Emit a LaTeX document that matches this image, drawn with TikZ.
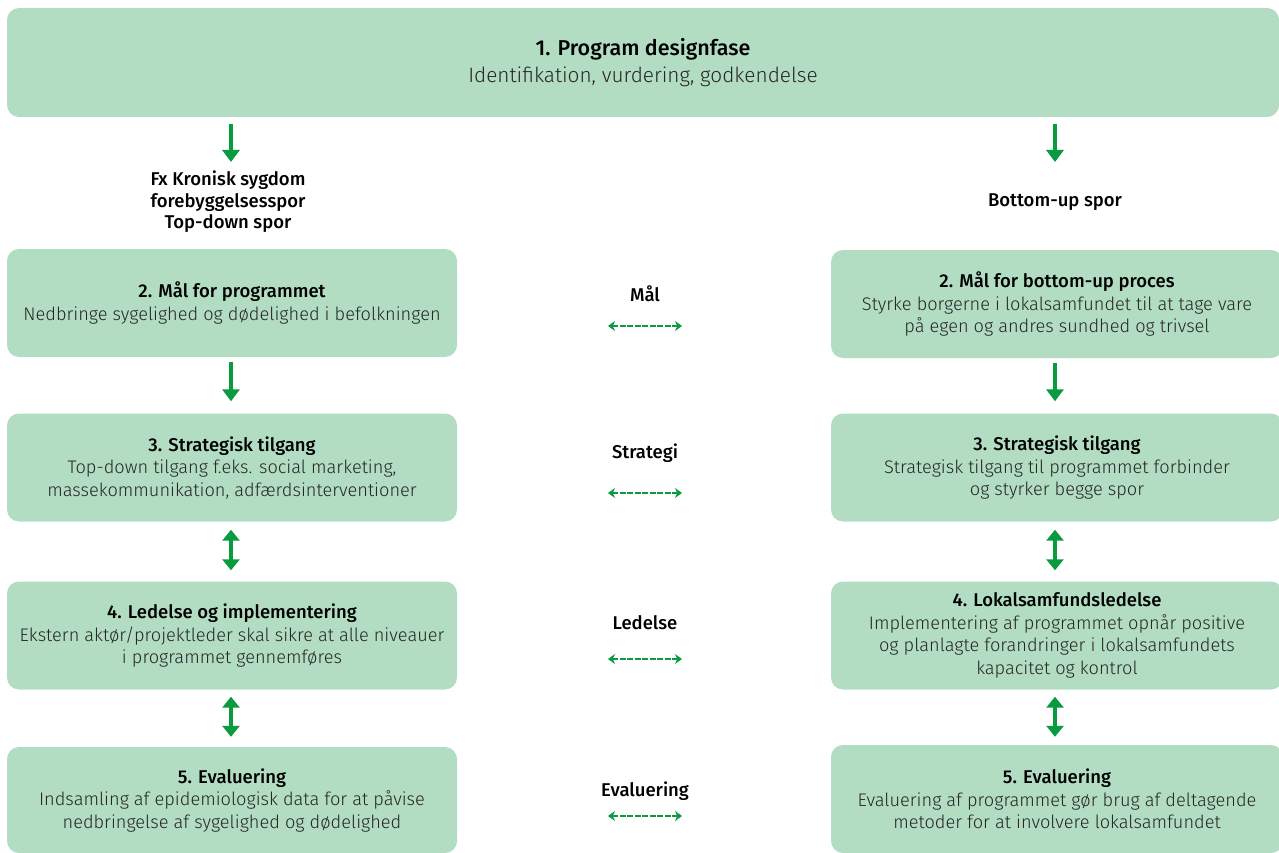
\documentclass[tikz,border=0pt]{standalone}
\usepackage{fontspec}
\setmainfont{Fira Sans Light}[BoldFont={Fira Sans Medium}]
\usetikzlibrary{arrows.meta,calc}
\definecolor{boxgreen}{HTML}{B2DDC3}
\definecolor{arrgreen}{HTML}{0A9A3F}
\definecolor{bodytext}{HTML}{262626}
\tikzset{
  box/.style={fill=boxgreen, rounded corners=12pt, minimum width=450pt, minimum height=108pt,
    inner sep=0pt, align=center, font=\fontsize{18.2}{22.5}\selectfont, text=bodytext},
  lbl/.style={align=center, font=\fontsize{18.5}{21.5}\selectfont\bfseries, text=black},
  flowarrow/.style={draw=arrgreen, line width=4pt, -{Triangle[length=12pt,width=17pt]}},
  twoway/.style={draw=arrgreen, line width=4pt, {Triangle[length=11pt,width=17pt]}-{Triangle[length=11pt,width=17pt]}},
  linkarrow/.style={draw=arrgreen, line width=2pt, dash pattern=on 6pt off 1.5pt,
    {Stealth[length=7pt,width=10pt]}-{Stealth[length=7pt,width=10pt]}}
}
\newcommand{\boxtitle}[1]{\textcolor{black}{\fontsize{18.5}{22.5}\selectfont\bfseries #1}}
\begin{document}
\begin{tikzpicture}[x=1pt,y=-1pt]
\useasboundingbox (0,0) rectangle (1279,853);

% design phase across the whole width
\node[box, minimum width=1272pt, minimum height=109pt, font=\fontsize{20.8}{27}\selectfont] (top) at (643,62.5)
  {\textcolor{black}{\fontsize{21.5}{27}\selectfont\bfseries 1. Program designfase}\\Identifikation, vurdering, godkendelse};

% track headings
\node[lbl] (trackL) at (228,202) {Fx Kronisk sygdom\\forebyggelsesspor\\Top-down spor};
\node[lbl] (trackR) at (1055,202) {Bottom-up spor};

% left column: top-down track
\node[box] (l2) at (232,303) {\boxtitle{2. Mål for programmet}\\Nedbringe sygelighed og dødelighed i befolkningen};
\node[box] (l3) at (232,467.5) {\boxtitle{3. Strategisk tilgang}\\Top-down tilgang f.eks. social marketing,\\massekommunikation, adfærdsinterventioner};
\node[box] (l4) at (232,635.5) {\boxtitle{4. Ledelse og implementering}\\Ekstern aktør/projektleder skal sikre at alle niveauer\\i programmet gennemføres};
\node[box, minimum height=106pt] (l5) at (232,800) {\boxtitle{5. Evaluering}\\Indsamling af epidemiologisk data for at påvise\\nedbringelse af sygelighed og dødelighed};

% right column: bottom-up track
\node[box, minimum width=452pt] (r2) at (1057,304) {\boxtitle{2. Mål for bottom-up proces}\\Styrke borgerne i lokalsamfundet til at tage vare\\på egen og andres sundhed og trivsel};
\node[box, minimum width=452pt] (r3) at (1057,467.5) {\boxtitle{3. Strategisk tilgang}\\Strategisk tilgang til programmet forbinder\\og styrker begge spor};
\node[box, minimum width=452pt] (r4) at (1057,635.5) {\boxtitle{4. Lokalsamfundsledelse}\\Implementering af programmet opnår positive\\og planlagte forandringer i lokalsamfundets\\kapacitet og kontrol};
\node[box, minimum width=452pt, minimum height=108pt] (r5) at (1057,799) {\boxtitle{5. Evaluering}\\Evaluering af programmet gør brug af deltagende\\metoder for at involvere lokalsamfundet};

% labels between the tracks
\node[lbl] (mal) at (645,294) {Mål};
\node[lbl] (strat) at (645,453) {Strategi};
\node[lbl] (led) at (645,623) {Ledelse};
\node[lbl] (eval) at (645,791) {Evaluering};

% ends of the linking arrows
\coordinate (malA) at (608,326);  \coordinate (malB) at (682,326);
\coordinate (stratA) at (608,493); \coordinate (stratB) at (682,493);
\coordinate (ledA) at (608,659);  \coordinate (ledB) at (682,659);
\coordinate (evalA) at (608,816); \coordinate (evalB) at (682,816);

% flow from the design phase into each track
\coordinate (splitL) at (231,117);
\coordinate (splitR) at (1055,117);
\coordinate (arrowEnd) at (0,162);
\draw[flowarrow, shorten <=7pt] (splitL) -- (splitL |- arrowEnd);
\draw[flowarrow, shorten <=7pt] (splitR) -- (splitR |- arrowEnd);

% vertical steps in each column
\draw[flowarrow, shorten <=5pt, shorten >=12pt] (l2.south -| splitL) -- (l3.north -| splitL);
\draw[flowarrow, shorten <=5pt, shorten >=12pt] (r2.south -| splitR) -- (r3.north -| splitR);
\draw[twoway, shorten <=8pt, shorten >=11pt] (l3.south -| splitL) -- (l4.north -| splitL);
\draw[twoway, shorten <=8pt, shorten >=11pt] (r3.south -| splitR) -- (r4.north -| splitR);
\draw[twoway, shorten <=7pt, shorten >=10pt] (l4.south -| splitL) -- (l5.north -| splitL);
\draw[twoway, shorten <=7pt, shorten >=8pt] (r4.south -| splitR) -- (r5.north -| splitR);

% links between the two tracks
\draw[linkarrow] (malA) -- (malB);
\draw[linkarrow] (stratA) -- (stratB);
\draw[linkarrow] (ledA) -- (ledB);
\draw[linkarrow] (evalA) -- (evalB);
\end{tikzpicture}
\end{document}
